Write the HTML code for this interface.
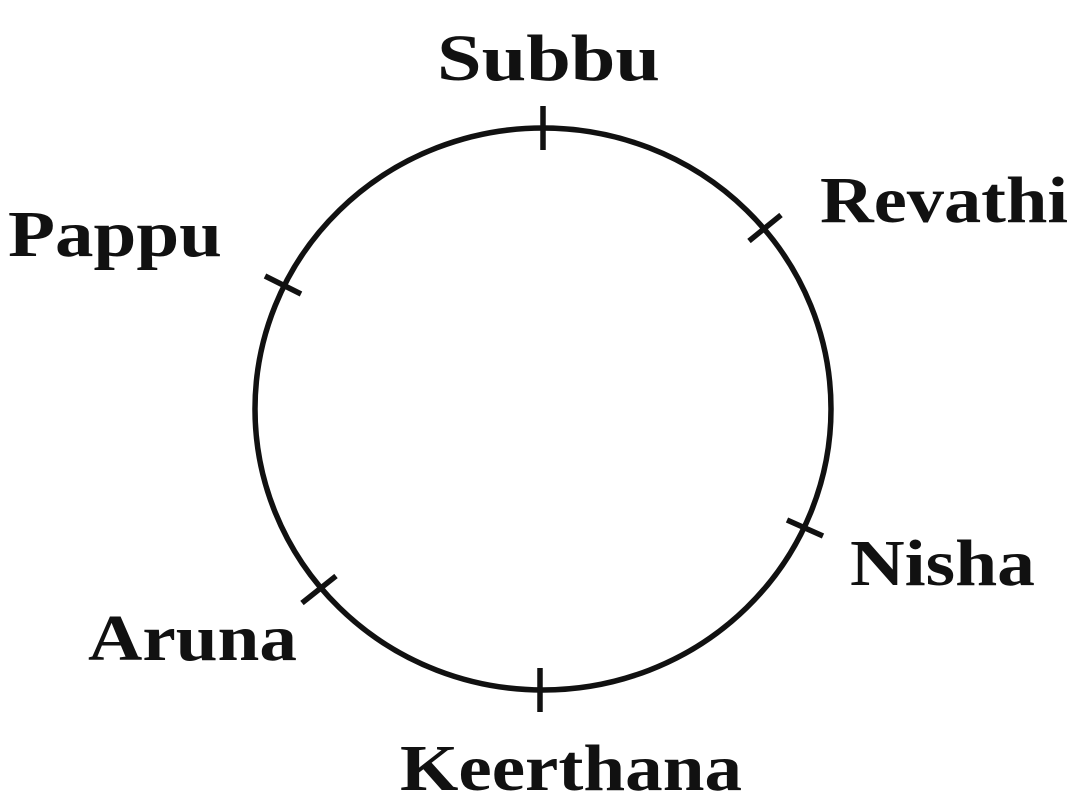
<!DOCTYPE html>
<html><head><meta charset="utf-8"><style>
html,body{margin:0;padding:0;background:#fff;width:1080px;height:800px;overflow:hidden}
</style></head><body>
<svg width="1080" height="800" viewBox="0 0 1080 800" xmlns="http://www.w3.org/2000/svg">
<rect width="1080" height="800" fill="#fff"/>
<ellipse cx="543" cy="409" rx="288" ry="281" fill="none" stroke="#111" stroke-width="5.5"/>
<g stroke="#111" stroke-width="5.5" stroke-linecap="butt">
<line x1="543" y1="106" x2="543" y2="150"/>
<line x1="749" y1="241" x2="781" y2="215"/>
<line x1="265" y1="276" x2="301" y2="294"/>
<line x1="787" y1="520" x2="823" y2="536"/>
<line x1="302" y1="603" x2="336" y2="576"/>
<line x1="540" y1="668" x2="540" y2="712"/>
</g>
<g font-family="'Liberation Serif',serif" font-weight="bold" font-size="66" fill="#111">
<text x="437" y="80" textLength="223" lengthAdjust="spacingAndGlyphs">Subbu</text>
<text x="820" y="222" textLength="248" lengthAdjust="spacingAndGlyphs">Revathi</text>
<text x="8" y="256" textLength="214" lengthAdjust="spacingAndGlyphs">Pappu</text>
<text x="850" y="585" textLength="185" lengthAdjust="spacingAndGlyphs">Nisha</text>
<text x="88" y="660" textLength="209" lengthAdjust="spacingAndGlyphs">Aruna</text>
<text x="400" y="790" textLength="342" lengthAdjust="spacingAndGlyphs">Keerthana</text>
</g>
</svg>
</body></html>
